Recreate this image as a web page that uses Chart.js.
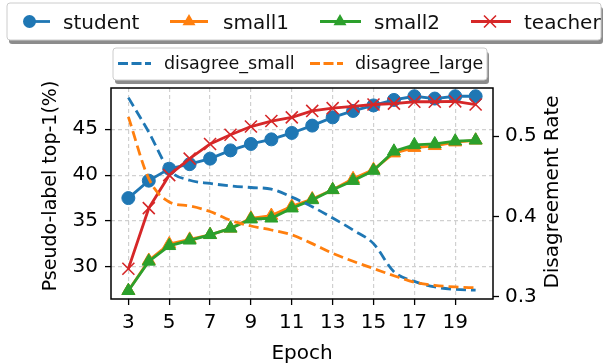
<!DOCTYPE html>
<html>
<head>
<meta charset="utf-8">
<script src="https://cdn.jsdelivr.net/npm/chart.js@4/dist/chart.umd.min.js"></script>
<style>
  html, body { margin: 0; padding: 0; background: #fff; }
  #wrap { width: 603px; height: 364px; }
</style>
</head>
<body>
<div id="wrap"><canvas id="chart" width="603" height="364"></canvas></div>
<script>
// data
const epochs = [3, 4, 5, 6, 7, 8, 9, 10, 11, 12, 13, 14, 15, 16, 17, 18, 19, 20];
const student = [37.5, 39.4, 40.7, 41.2, 41.8, 42.7, 43.4, 43.9, 44.6, 45.4, 46.3, 47.0, 47.6, 48.2, 48.6, 48.35, 48.6, 48.6];
const small1 = [27.4, 30.7, 32.5, 33.0, 33.5, 34.2, 35.3, 35.6, 36.6, 37.4, 38.4, 39.6, 40.6, 42.4, 43.0, 43.2, 43.6, 43.8];
const small2 = [27.4, 30.6, 32.3, 32.9, 33.5, 34.2, 35.2, 35.3, 36.4, 37.3, 38.4, 39.4, 40.5, 42.6, 43.3, 43.4, 43.7, 43.8];
const teacher = [29.8, 36.4, 40.0, 41.8, 43.4, 44.4, 45.3, 45.9, 46.3, 47.0, 47.3, 47.5, 47.7, 47.8, 48.0, 48.0, 48.05, 47.7];
const disagreeSmall = [0.548, 0.505, 0.458, 0.445, 0.441, 0.438, 0.436, 0.434, 0.424, 0.412, 0.398, 0.383, 0.366, 0.331, 0.319, 0.312, 0.309, 0.308];
const disagreeLarge = [0.524, 0.447, 0.418, 0.413, 0.406, 0.395, 0.388, 0.383, 0.377, 0.366, 0.354, 0.344, 0.335, 0.326, 0.318, 0.314, 0.312, 0.311];

const xTicks = [3, 5, 7, 9, 11, 13, 15, 17, 19];
const leftTicks = [30, 35, 40, 45];
const rightTicks = [0.3, 0.4, 0.5];

const BLUE = '#1f77b4', ORANGE = '#ff7f0e', GREEN = '#2ca02c', RED = '#d62728';
const FONT = 'DejaVu Sans';

const pts = arr => epochs.map((e, i) => ({ x: e, y: arr[i] }));

function rrect(ctx, x, y, w, h, r) {
  ctx.beginPath();
  ctx.moveTo(x + r, y);
  ctx.arcTo(x + w, y, x + w, y + h, r);
  ctx.arcTo(x + w, y + h, x, y + h, r);
  ctx.arcTo(x, y + h, x, y, r);
  ctx.arcTo(x, y, x + w, y, r);
  ctx.closePath();
}

function legendBox(ctx, x, y, w, h) {
  ctx.fillStyle = 'rgba(0,0,0,0.45)';
  rrect(ctx, x + 2, y + 4, w, h, 3);
  ctx.fill();
  ctx.fillStyle = '#fff';
  rrect(ctx, x, y, w, h, 3);
  ctx.fill();
  ctx.strokeStyle = '#cccccc';
  ctx.lineWidth = 1;
  ctx.stroke();
}

function marker(ctx, kind, color, x, y) {
  ctx.fillStyle = color;
  ctx.strokeStyle = color;
  ctx.setLineDash([]);
  if (kind === 'circle') {
    ctx.beginPath(); ctx.arc(x, y, 6.5, 0, Math.PI * 2); ctx.fill();
  } else if (kind === 'triangle') {
    const r = 7.5;
    ctx.beginPath();
    ctx.moveTo(x, y - r);
    ctx.lineTo(x + r * 0.866, y + r * 0.5);
    ctx.lineTo(x - r * 0.866, y + r * 0.5);
    ctx.closePath(); ctx.fill();
  } else if (kind === 'x') {
    const d = 6;
    ctx.lineWidth = 1.6;
    ctx.beginPath();
    ctx.moveTo(x - d, y - d); ctx.lineTo(x + d, y + d);
    ctx.moveTo(x + d, y - d); ctx.lineTo(x - d, y + d);
    ctx.stroke();
  }
}

function handle(ctx, color, x1, x2, y, dash, w) {
  ctx.strokeStyle = color;
  ctx.lineWidth = w;
  ctx.setLineDash(dash);
  ctx.beginPath(); ctx.moveTo(x1, y); ctx.lineTo(x2, y); ctx.stroke();
  ctx.setLineDash([]);
}

const extras = {
  id: 'extras',
  afterDraw(chart) {
    const ctx = chart.ctx;
    const a = chart.chartArea;
    ctx.save();
    // frame
    ctx.strokeStyle = '#000';
    ctx.lineWidth = 1.5;
    ctx.strokeRect(a.left, a.top, a.right - a.left, a.bottom - a.top);

    // axis titles
    ctx.fillStyle = '#000';
    ctx.font = '20px "' + FONT + '"';
    ctx.textAlign = 'center';
    ctx.textBaseline = 'alphabetic';
    ctx.fillText('Epoch', (a.left + a.right) / 2, 359);
    ctx.save();
    ctx.translate(56, 186);
    ctx.rotate(-Math.PI / 2);
    ctx.font = '19px "' + FONT + '"';
    ctx.fillText('Pseudo-label top-1(%)', 0, 0);
    ctx.restore();
    ctx.save();
    ctx.translate(558, 192);
    ctx.rotate(-Math.PI / 2);
    ctx.fillText('Disagreement Rate', 0, 0);
    ctx.restore();

    // top legend
    legendBox(ctx, 7, 3, 594, 37);
    const ly = 21.5;
    handle(ctx, BLUE, 29.5, 50, ly, [], 2.8);
    marker(ctx, 'circle', BLUE, 29.5, ly);
    handle(ctx, ORANGE, 170, 208, ly, [], 2.8);
    marker(ctx, 'triangle', ORANGE, 189, ly);
    handle(ctx, GREEN, 320, 361, ly, [], 2.8);
    marker(ctx, 'triangle', GREEN, 340, ly);
    handle(ctx, RED, 471, 511, ly, [], 2.8);
    marker(ctx, 'x', RED, 490, ly);
    ctx.fillStyle = '#111';
    ctx.textAlign = 'left';
    ctx.font = '20px "' + FONT + '"';
    ctx.fillText('student', 63, 28.5);
    ctx.fillText('small1', 223, 28.5);
    ctx.fillText('small2', 374, 28.5);
    ctx.fillText('teacher', 524, 28.5);

    // second legend
    legendBox(ctx, 113, 48, 374, 32);
    handle(ctx, BLUE, 118, 151, 63.5, [10, 3.5], 2.8);
    handle(ctx, ORANGE, 310, 343, 63.5, [10, 3.5], 2.8);
    ctx.fillStyle = '#111';
    ctx.font = '17.5px "' + FONT + '"';
    ctx.fillText('disagree_small', 164, 68.5);
    ctx.fillText('disagree_large', 355, 68.5);
    ctx.restore();
  }
};

Chart.defaults.font.family = FONT;
Chart.defaults.font.size = 20;
Chart.defaults.color = '#000';

const solid = {
  borderWidth: 2.8,
  pointBorderWidth: 1,
  yAxisID: 'y',
  tension: 0
};
const dashed = {
  borderWidth: 2.8,
  borderDash: [10, 5],
  pointRadius: 0,
  yAxisID: 'y2',
  cubicInterpolationMode: 'monotone'
};

new Chart(document.getElementById('chart'), {
  type: 'line',
  data: {
    datasets: [
      Object.assign({}, solid, { label: 'student', data: pts(student), borderColor: BLUE, backgroundColor: BLUE, pointBorderColor: BLUE, pointStyle: 'circle', pointRadius: 6.5, order: 6 }),
      Object.assign({}, solid, { label: 'small1', data: pts(small1), borderColor: ORANGE, backgroundColor: ORANGE, pointBorderColor: ORANGE, pointStyle: 'triangle', pointRadius: 7.5, order: 5 }),
      Object.assign({}, solid, { label: 'small2', data: pts(small2), borderColor: GREEN, backgroundColor: GREEN, pointBorderColor: GREEN, pointStyle: 'triangle', pointRadius: 7.5, order: 4 }),
      Object.assign({}, solid, { label: 'teacher', data: pts(teacher), borderColor: RED, backgroundColor: RED, pointBorderColor: RED, pointStyle: 'crossRot', pointRadius: 8.5, pointBorderWidth: 1.6, order: 3 }),
      Object.assign({}, dashed, { label: 'disagree_small', data: pts(disagreeSmall), borderColor: BLUE, order: 2 }),
      Object.assign({}, dashed, { label: 'disagree_large', data: pts(disagreeLarge), borderColor: ORANGE, order: 1 })
    ]
  },
  options: {
    responsive: false,
    animation: false,
    devicePixelRatio: 1,
    events: [],
    layout: { padding: { top: 88, left: 0, right: 0, bottom: 0 } },
    plugins: { legend: { display: false }, tooltip: { enabled: false } },
    scales: {
      x: {
        type: 'linear',
        min: 2.15,
        max: 20.85,
        afterBuildTicks: s => { s.ticks = xTicks.map(v => ({ value: v })); },
        afterFit: s => { s.height = 65; },
        ticks: { padding: 6, maxRotation: 0, autoSkip: false, callback: v => String(v) },
        grid: { color: '#d0d0d0', lineWidth: 1.2, tickColor: '#000', tickLength: 6, tickWidth: 1.3 },
        border: { display: false, dash: [4, 3] }
      },
      y: {
        position: 'left',
        min: 26.5,
        max: 49.5,
        afterBuildTicks: s => { s.ticks = leftTicks.map(v => ({ value: v })); },
        afterFit: s => { s.width = 111; },
        ticks: { padding: 7, callback: v => String(v) },
        grid: { color: '#d0d0d0', lineWidth: 1.2, tickColor: '#000', tickLength: 6, tickWidth: 1.3 },
        border: { display: false, dash: [4, 3] }
      },
      y2: {
        position: 'right',
        min: 0.297,
        max: 0.56,
        afterBuildTicks: s => { s.ticks = rightTicks.map(v => ({ value: v })); },
        afterFit: s => { s.width = 110; },
        ticks: { padding: 6, callback: v => v.toFixed(1) },
        grid: { drawOnChartArea: false, tickColor: '#000', tickLength: 6, tickWidth: 1.3 },
        border: { display: false }
      }
    }
  },
  plugins: [extras]
});
</script>
</body>
</html>
